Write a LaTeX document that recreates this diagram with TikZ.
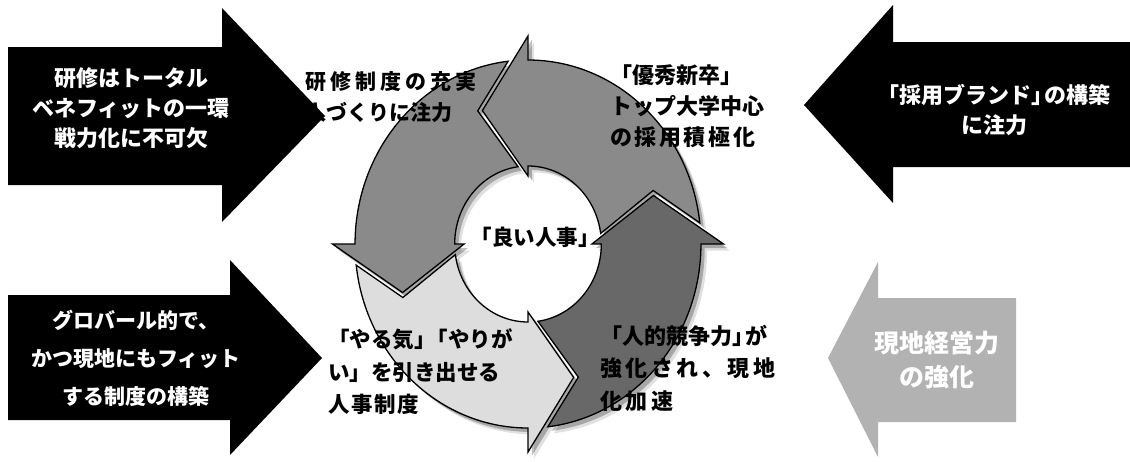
\documentclass[tikz,border=0pt]{standalone}
\usepackage{fontspec}
\setmainfont{Noto Sans CJK JP}
\definecolor{midgray}{HTML}{8A8A8A}
\definecolor{darkgray}{HTML}{686868}
\definecolor{lightgray}{HTML}{DDDDDD}
\definecolor{sidegray}{HTML}{B2B2B2}
\newcommand{\cycarrow}[2]{%
  \path[#2] ({#1+6.6}:184) arc[start angle={#1+6.6}, end angle={#1+90}, radius=184]
    -- ({#1+90}:208) -- ({#1+110}:142) -- ({#1+90}:68) -- ({#1+90}:78)
    arc[start angle={#1+90}, end angle={#1+7.8}, radius=78]
    -- ({#1+21.9}:143.5) -- cycle;}
\newcommand{\tk}{\kern-9pt}
\makeatletter
\newcommand{\spacedtxt}[2]{\@tfor\my@ch:=#2\do{\my@ch\kern#1}}
\makeatother
\tikzset{
  blackarrow/.style={fill=black, draw=none},
  greyarrow/.style={fill=sidegray, draw=none},
  ringarrow/.style={draw=black, line width=1.3pt, line join=miter},
  ringshadow/.style={fill=black, opacity=0.25},
  wtxt/.style={text=white, align=center, inner sep=0pt,
    font=\bfseries\fontsize{22}{30}\selectfont},
  btxt/.style={text=black, align=left, inner sep=0pt, anchor=west,
    font=\bfseries\fontsize{21}{31}\selectfont},
}
\begin{document}
\begin{tikzpicture}[x=1pt,y=-1pt]
\useasboundingbox (0,0) rectangle (1130,461);
\fill[white] (0,0) rectangle (1130,461);

% side arrows
\path[blackarrow] (8,47) -- (222,47) -- (222,8) -- (325,116) -- (222,222) -- (222,185) -- (8,185) -- cycle;
\path[blackarrow] (8,295) -- (230,295) -- (230,260) -- (322,358) -- (230,455) -- (230,420) -- (8,420) -- cycle;
\path[blackarrow] (1130,42) -- (893,42) -- (893,5) -- (804,105) -- (893,203) -- (893,167) -- (1130,167) -- cycle;
\path[greyarrow] (1016,298) -- (878,298) -- (878,262) -- (828,358) -- (878,457) -- (878,422) -- (1016,422) -- cycle;

% cycle of four arrows
\begin{scope}[shift={(528,244)}, xscale=0.94, yscale=-1]
  \foreach \p in {0,90,180,270}{
    \cycarrow{\p}{ringshadow, shift={(4,-4)}}
    \cycarrow{\p}{ringshadow, opacity=0.12, shift={(6.5,-6.5)}}
  }
  \cycarrow{0}{ringarrow, fill=midgray}
  \cycarrow{90}{ringarrow, fill=midgray}
  \cycarrow{180}{ringarrow, fill=lightgray}
  \cycarrow{270}{ringarrow, fill=darkgray}
\end{scope}

% texts in side arrows
\node[wtxt] (tl) at (131,108) {研修はトータル\\ベネフィットの一環\\戦力化に不可欠};
\node[wtxt, font=\bfseries\fontsize{21}{38}\selectfont] (bl) at (136,358) {グロバール的で、\\かつ現地にもフィット\\する制度の構築};
\node[wtxt] (tr) at (994,110) {「採用ブランド」\tk の構築\\に注力};
\node[wtxt, font=\bfseries\fontsize{25}{34}\selectfont] (br) at (937,360) {現地経営力\\の強化};

% texts in the cycle
\node[btxt] (c1) at (305,97) {\spacedtxt{4pt}{研修制度の充実}\\人づくりに注力};
\node[btxt, font=\bfseries\fontsize{22}{31}\selectfont] (c2) at (610,106) {「優秀新卒」\\トップ大学中心\\\spacedtxt{2.6pt}{の採用積極化}};
\node[btxt, font=\bfseries\fontsize{21.5}{32.5}\selectfont] (c3) at (328,372) {「やる気」\tk「やりが\\い」を引き出せる\\\spacedtxt{1.7pt}{人事制度}};
\node[btxt, font=\bfseries\fontsize{22}{32.5}\selectfont] (c4) at (600,368) {「人的競争力」\tk が\\\spacedtxt{3.5pt}{強化され、現地}\\\spacedtxt{3.5pt}{化加速}};
\node[text=black, inner sep=0pt, font=\bfseries\fontsize{21.5}{26}\selectfont] (c0) at (535,237) {「良い人事」};
\end{tikzpicture}
\end{document}
